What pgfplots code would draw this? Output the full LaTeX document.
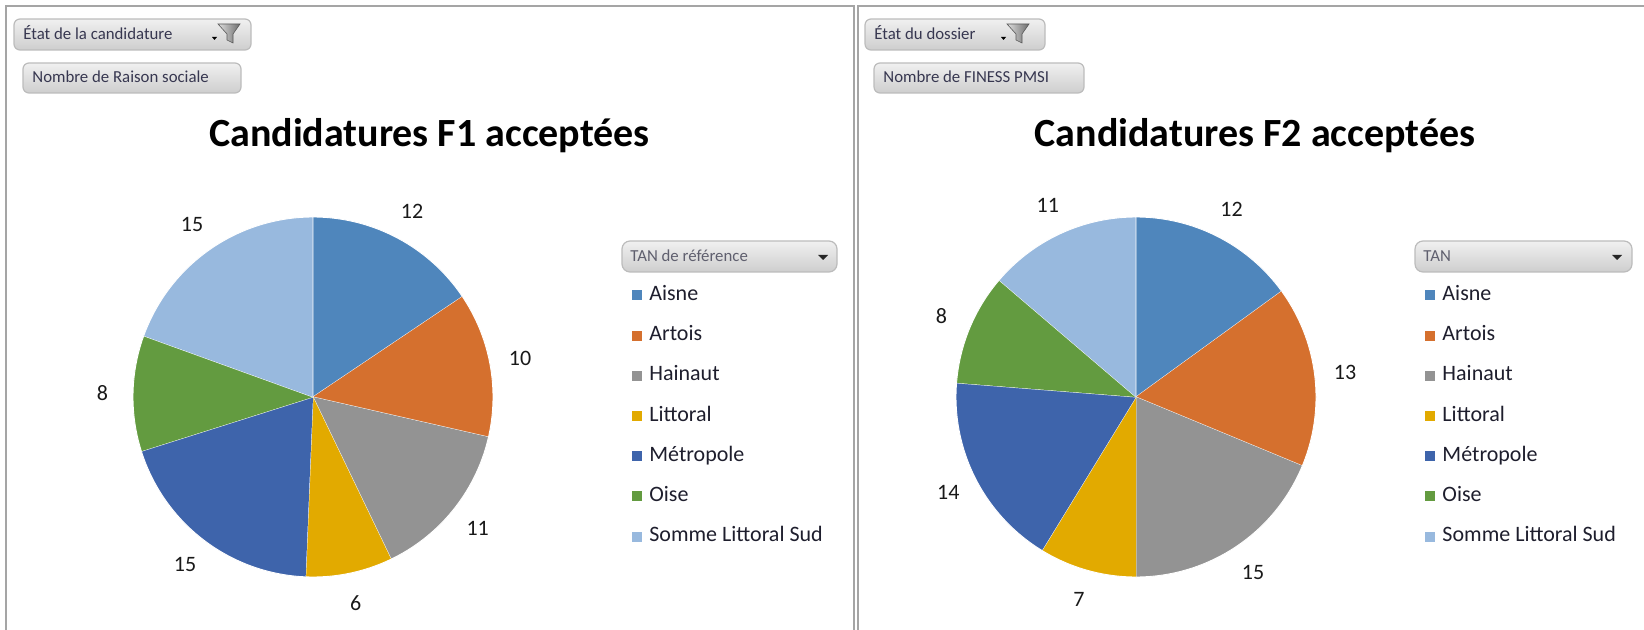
\documentclass[border=0pt]{standalone}
\usepackage{fontspec}
\setmainfont{Carlito}
\usepackage{pgfplots}
\pgfplotsset{compat=1.18}
\usepackage{pgfplotstable}
\usepgfplotslibrary{polar}

\definecolor{pc0}{RGB}{79,134,188}
\definecolor{pc1}{RGB}{213,112,46}
\definecolor{pc2}{RGB}{147,147,147}
\definecolor{pc3}{RGB}{226,170,0}
\definecolor{pc4}{RGB}{62,100,171}
\definecolor{pc5}{RGB}{99,155,64}
\definecolor{pc6}{RGB}{152,185,222}
\definecolor{btntop}{RGB}{240,240,240}
\definecolor{btnbot}{RGB}{206,206,206}
\definecolor{btnline}{RGB}{188,188,188}
\definecolor{btntext}{RGB}{55,55,80}
\definecolor{hdrtext}{RGB}{95,95,110}
\definecolor{framec}{RGB}{165,165,165}
\definecolor{labtext}{RGB}{25,25,25}
\definecolor{legtext}{RGB}{30,30,45}

% F1 : Nombre de Raison sociale par TAN de reference
\pgfplotstableread[col sep=comma]{
name,v
Aisne,12
Artois,10
Hainaut,11
Littoral,6
Metropole,15
Oise,8
Somme Littoral Sud,15
}\tabA
% F2 : Nombre de FINESS PMSI par TAN
\pgfplotstableread[col sep=comma]{
name,v
Aisne,12
Artois,13
Hainaut,15
Littoral,7
Metropole,14
Oise,8
Somme Littoral Sud,11
}\tabB
\pgfplotstablecreatecol[create col/expr accum={\pgfmathaccuma+\thisrow{v}}{0}]{cum}{\tabA}
\pgfplotstablecreatecol[create col/expr accum={\pgfmathaccuma+\thisrow{v}}{0}]{cum}{\tabB}

\newcommand\tabsum[2]{%
  \def#2{0}%
  \pgfplotsforeachungrouped \j in {0,...,6}{%
    \pgfplotstablegetelem{\j}{v}\of{#1}%
    \pgfmathsetmacro#2{#2+\pgfplotsretval}%
  }%
}
\tabsum{\tabA}{\totA}
\tabsum{\tabB}{\totB}

% one wedge per row, clockwise from 12 o'clock
\newcommand\drawpie[2]{%
  \def\run{0}%
  \pgfplotsforeachungrouped \i in {0,...,6}{%
    \pgfplotstablegetelem{\i}{v}\of{#1}\let\vv=\pgfplotsretval
    \pgfmathsetmacro\sa{90-\run/#2*360}%
    \pgfmathsetmacro\run{\run+\vv}%
    \pgfmathsetmacro\ea{90-\run/#2*360}%
    \pgfmathsetmacro\cen{\ea-5}%
    \pgfmathsetmacro\eb{\ea+(\sa-\ea)/60}%
    \edef\cmd{\noexpand\addplot[fill=pc\i, draw=white, line width=0.45pt,
      samples at={\cen,\ea,\eb,...,\sa,\sa}] {x<(\ea-1) ? 0 : 1};}%
    \cmd
  }%
}

\pgfplotsset{
  pie/.style={
    hide axis, scale only axis, width=180pt, height=180pt,
    xmin=0, xmax=360, ymin=0, ymax=1, clip=false,
    legend cell align=left,
    legend image code/.code={\fill[##1, draw=none] (0pt,-2.5pt) rectangle (5pt,2.5pt);},
    legend style={anchor=north west, draw=none, fill=none, inner sep=0pt,
      row sep=10.1pt, column sep=3.5pt,
      font=\fontsize{11}{13}\selectfont, text=legtext,
      nodes={inner sep=0pt, text height=7.5pt, text depth=2.5pt}},
    legend entries={Aisne,Artois,Hainaut,Littoral,Métropole,Oise,Somme Littoral Sud},
  },
  pielabels/.style={forget plot, draw=none, mark=none, point meta=explicit,
    nodes near coords={\pgfmathprintnumber[assume math mode=true]{\pgfplotspointmeta}},
    every node near coord/.append style={anchor=center, inner sep=0pt,
      font=\fontsize{11}{13}\selectfont, text=labtext}},
}

\newcommand\btn[5]{%
  \shade[top color=btntop, bottom color=btnbot, rounded corners=3pt] (#1,#2) rectangle (#3,#4);
  \draw[btnline, line width=0.6pt, rounded corners=3pt] (#1,#2) rectangle (#3,#4);
  \node[anchor=base west, inner sep=0pt, font=\fontsize{8.4}{10}\selectfont, text=btntext] at ({#1+9},{#4-10}) {#5};
}
\newcommand\funnel[2]{% top-left x,y
  \shade[left color=gray!25, right color=gray!85!black, draw=gray!70!black, line width=0.3pt]
    (#1,#2) -- ({#1+22},#2) -- ({#1+15},{#2+10}) -- ({#1+15},{#2+19}) -- ({#1+9},{#2+16}) -- ({#1+9},{#2+10}) -- cycle;
  \fill[black] ({#1-6},{#2+13}) -- ({#1-1},{#2+13}) -- ({#1-3.5},{#2+16}) -- cycle;
}
\newcommand\hdr[6]{% x1,y1,x2,y2,text,arrow x
  \shade[top color=btntop, bottom color=btnbot, rounded corners=4pt] (#1,#2) rectangle (#3,#4);
  \draw[btnline, line width=0.6pt, rounded corners=4pt] (#1,#2) rectangle (#3,#4);
  \node[anchor=base west, inner sep=0pt, font=\fontsize{8.4}{10}\selectfont, text=hdrtext] at ({#1+8},{#4-10}) {#5};
  \fill[black!85] ({#6-5},255) -- ({#6+5},255) -- (#6,260) -- cycle;
}

\begin{document}
\begin{tikzpicture}[x=0.5pt,y=-0.5pt]
% panel frames
\draw[framec, line width=1pt] (6,700) -- (6,6) -- (854,6) -- (854,700);
\draw[framec, line width=1pt] (858,700) -- (858,6) -- (1700,6);

% pivot field buttons, left
\btn{14}{19}{251}{50}{État de la candidature}
\funnel{218}{24}
\btn{23}{63}{241}{93}{Nombre de Raison sociale}
% pivot field buttons, right
\btn{865}{19}{1045}{50}{État du dossier}
\funnel{1007}{24}
\btn{874}{63}{1084}{93}{Nombre de FINESS PMSI}

% titles
\node[anchor=base, inner sep=0pt, font=\fontsize{20}{24}\selectfont\bfseries] at (429.5,147) {Candidatures F1 acceptées};
\node[anchor=base, inner sep=0pt, font=\fontsize{20}{24}\selectfont\bfseries] at (1255,147) {Candidatures F2 acceptées};

% legend header buttons
\hdr{622}{241}{837}{272}{TAN de référence}{823}
\hdr{1415}{241}{1632}{272}{TAN}{1617}

\coordinate (c1) at (313,397);
\coordinate (c2) at (1136,397);

\begin{polaraxis}[pie, at={(c1)}, anchor=center,
    legend style={at={(axis description cs:1.386,0.811)}}]
  \drawpie{\tabA}{\totA}
  \addplot[pielabels] table[x expr={90-(\thisrow{cum}-0.5*\thisrow{v})/\totA*360}, y expr={1.17}, meta=v] {\tabA};
\end{polaraxis}

\begin{polaraxis}[pie, at={(c2)}, anchor=center,
    legend style={at={(axis description cs:1.303,0.811)}}]
  \drawpie{\tabB}{\totB}
  \addplot[pielabels] table[x expr={90-(\thisrow{cum}-0.5*\thisrow{v})/\totB*360}, y expr={1.17}, meta=v] {\tabB};
\end{polaraxis}

\pgfresetboundingbox
\useasboundingbox (0,0) rectangle (1644,630);
\end{tikzpicture}
\end{document}
